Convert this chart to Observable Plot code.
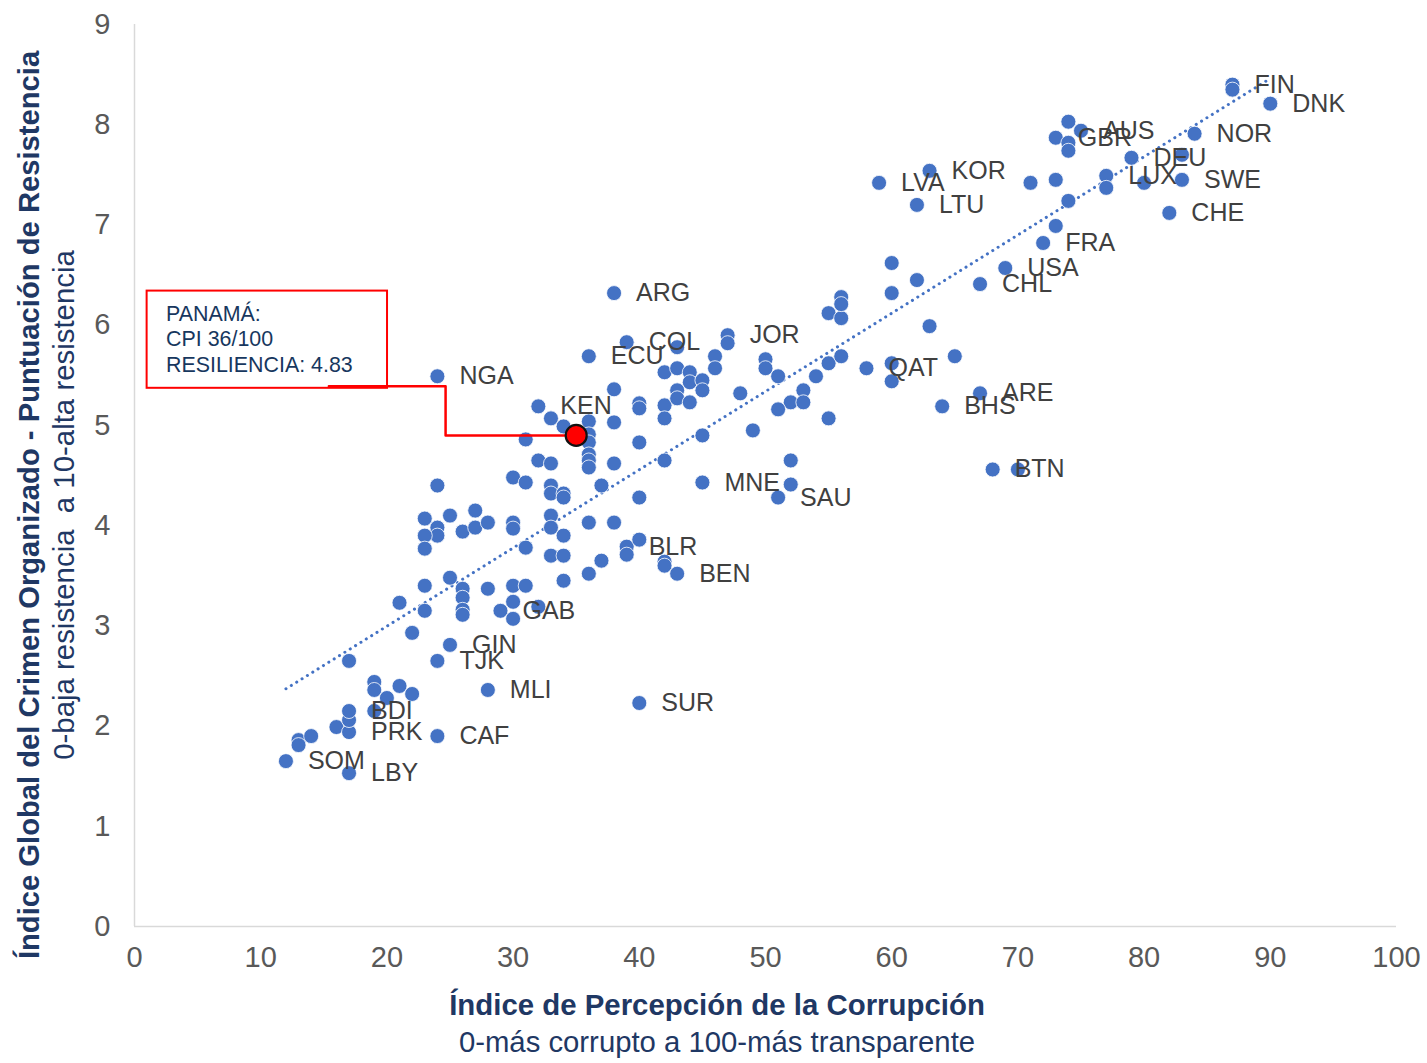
<!DOCTYPE html>
<html>
<head>
<meta charset="utf-8">
<script src="https://cdn.jsdelivr.net/npm/d3@7"></script>
<script src="https://cdn.jsdelivr.net/npm/@observablehq/plot@0.6"></script>
<style>
  body { margin: 0; background: #fff; }
  #chart { width: 1427px; height: 1063px; }
  svg { font-family: "Liberation Sans", Arial, sans-serif; }
</style>
</head>
<body>
<div id="chart"></div>
<script>
// ---- Data ----
const cpi = [
  12,13,13,14,16,17,17,17,19,17,17,19,19,20,21,22,24,24,25,28,
  22,21,23,23,25,26,26,26,26,28,30,31,30,29,30,32,34,
  23,25,27,24,24,23,23,26,27,28,30,30,33,33,34,31,33,34,36,38,37,36,39,39,40,42,42,43,
  24,30,31,33,33,34,34,37,40,32,33,38,42,45,52,51,52,70,68,40,
  36,36,36,36,36,36,
  32,33,34,31,38,38,40,40,40,42,42,45,49,24,36,39,38,43,47,47,46,46,42,43,44,44,45,45,43,43,44,48,
  50,50,51,54,55,56,53,52,53,51,55,58,60,60,55,56,56,56,60,60,62,63,65,64,67,67,69,72,73,
  62,59,63,71,73,74,77,77,80,79,83,83,82,84,74,75,73,74,74,87,87,90
];
const resilience = [
  1.65,1.86,1.81,1.90,1.99,1.94,2.06,2.15,2.15,1.53,2.65,2.44,2.36,2.28,2.40,2.32,1.90,2.65,2.81,2.36,
  2.93,3.23,3.15,3.40,3.48,3.37,3.28,3.16,3.11,3.37,3.40,3.40,3.24,3.15,3.07,3.19,3.45,
  4.07,4.10,4.15,3.98,3.90,3.90,3.77,3.94,3.98,4.03,4.03,3.97,4.10,3.98,3.90,3.78,3.70,3.70,4.03,4.03,3.65,3.52,3.79,3.71,3.86,3.64,3.60,3.52,
  4.40,4.48,4.43,4.40,4.32,4.32,4.28,4.40,4.28,4.65,4.62,4.62,4.65,4.43,4.65,4.28,4.41,4.56,4.56,2.23,
  5.04,4.91,4.83,4.71,4.65,4.58,
  5.19,5.07,4.99,4.86,5.03,5.36,5.22,5.17,4.83,5.20,5.07,4.90,4.95,5.49,5.69,5.83,6.32,5.78,5.90,5.82,5.69,5.57,5.53,5.57,5.53,5.43,5.45,5.35,5.35,5.27,5.23,5.32,
  5.66,5.57,5.49,5.49,5.62,5.69,5.35,5.23,5.23,5.16,5.07,5.57,5.62,5.44,6.12,6.07,6.28,6.21,6.32,6.62,6.45,5.99,5.69,5.19,5.32,6.41,6.57,6.82,6.99,
  7.20,7.42,7.54,7.42,7.45,7.24,7.49,7.37,7.42,7.67,7.70,7.45,7.12,7.91,8.03,7.94,7.87,7.82,7.74,8.40,8.35,8.21
];
const labels = [
  "SOM","","","","","PRK","","BDI","","LBY","","","","","","","CAF","TJK","GIN","MLI",
  "","","","","","","","","","","","","","GAB","","","",
  "","","","","","","","","","","","","","","","","","","","","","","BLR","","","","","BEN",
  "","","","","","","","","","","","","","MNE","","SAU","","","BTN","SUR",
  "","","","","","",
  "KEN","","","","","","","","","","","","","NGA","ECU","COL","ARG","","JOR","","","","","","","","","","","","","",
  "","","","","","","","","","","","QAT","","","","","","","","","","","","BHS","ARE","CHL","USA","FRA","",
  "LTU","LVA","KOR","","","","LUX","","","DEU","","SWE","CHE","NOR","","AUS","GBR","","","FIN","","DNK"
];
const panamaCpi = [35];
const panamaResilience = [4.90];
const panamaNote = ["PANAMÁ:", "CPI 36/100", "RESILIENCIA: 4.83"];
const xTicks = [0, 10, 20, 30, 40, 50, 60, 70, 80, 90, 100];
const yTicks = [0, 1, 2, 3, 4, 5, 6, 7, 8, 9];

const countries = cpi.map((c, i) => ({cpi: c, res: resilience[i], code: labels[i]}));
const panama = [{cpi: panamaCpi[0], res: panamaResilience[0]}];

// annotation box (data-space placement of the callout)
const box = {x1: 1.0, x2: 20.05, y1: 5.37, y2: 6.34};
const elbowX = 24.65, lineY = 5.39;
const connector = [
  {x: 15.4, y: lineY}, {x: elbowX, y: lineY},
  {x: elbowX, y: panama[0].res}, {x: panama[0].cpi, y: panama[0].res}
];

const blue = "#4472C4";
const font = "Liberation Sans, Arial, sans-serif";

const chart = Plot.plot({
  width: 1427,
  height: 1063,
  marginLeft: 134,
  marginRight: 31,
  marginTop: 24,
  marginBottom: 137,
  style: {fontFamily: font, background: "#fff", overflow: "visible"},
  x: {domain: [0, 100], ticks: xTicks},
  y: {domain: [0, 9], ticks: yTicks},
  marks: [
    Plot.ruleY([0], {stroke: "#D9D9D9", strokeWidth: 1.5}),
    Plot.ruleX([0], {stroke: "#D9D9D9", strokeWidth: 1.5}),
    Plot.axisX({ticks: xTicks, tickSize: 0, tickPadding: 20, fontSize: 29, fill: "#595959", label: null}),
    Plot.axisY({ticks: yTicks, tickSize: 0, tickPadding: 24, fontSize: 29, fill: "#595959", label: null}),
    Plot.linearRegressionY(countries, {x: "cpi", y: "res", ci: 0, stroke: blue, strokeWidth: 3,
      strokeDasharray: "0.1,6.2", strokeLinecap: "round"}),
    Plot.dot(countries, {x: "cpi", y: "res", r: 7.5, fill: blue, stroke: "white", strokeWidth: 0.8}),
    Plot.text(countries.filter(d => d.code), {x: "cpi", y: "res", text: "code", dx: 22, textAnchor: "start",
      fontSize: 25, fill: "#404040", fontFamily: font}),
    Plot.rect([box], {x1: "x1", x2: "x2", y1: "y1", y2: "y2", fill: "white", stroke: "#FF0000", strokeWidth: 2}),
    Plot.line(connector, {x: "x", y: "y", stroke: "#FF0000", strokeWidth: 2.5}),
    Plot.dot(panama, {x: "cpi", y: "res", r: 10.5, fill: "#FF0000", stroke: "#111", strokeWidth: 2.2}),
    Plot.text([panamaNote.join("\n")], {x: box.x1 + 1.5, y: box.y2 - 0.115, text: d => d,
      textAnchor: "start", lineAnchor: "top", lineHeight: 1.19, fontSize: 21.4, fill: "#17375E", fontFamily: font})
  ]
});

document.getElementById("chart").appendChild(chart);

// Axis titles
const svg = d3.select(chart);
const navy = "#1F3864";
svg.append("text").attr("x", 717).attr("y", 1015).attr("text-anchor", "middle")
  .attr("font-size", 29.4).attr("font-weight", "bold").attr("fill", navy)
  .text("Índice de Percepción de la Corrupción");
svg.append("text").attr("x", 717).attr("y", 1052).attr("text-anchor", "middle")
  .attr("font-size", 29.3).attr("fill", navy)
  .text("0-más corrupto a 100-más transparente");
svg.append("text").attr("transform", "translate(38.5,505) rotate(-90)").attr("text-anchor", "middle")
  .attr("font-size", 29.2).attr("font-weight", "bold").attr("fill", navy)
  .text("Índice Global del Crimen Organizado - Puntuación de Resistencia");
svg.append("text").attr("transform", "translate(73.5,505) rotate(-90)").attr("text-anchor", "middle")
  .attr("font-size", 29.4).attr("fill", navy)
  .text("0-baja resistencia  a 10-alta resistencia");
</script>
</body>
</html>
